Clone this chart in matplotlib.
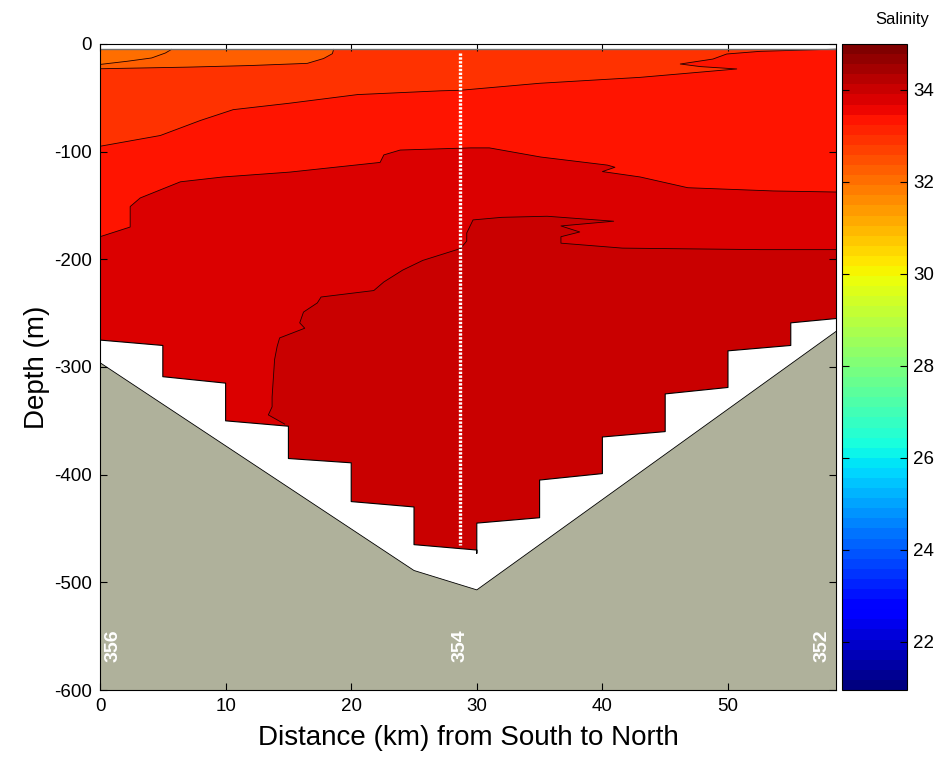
import matplotlib
matplotlib.use('Agg')
import matplotlib.pyplot as plt
from matplotlib import colors, cm
from matplotlib.patches import Polygon

plt.rcParams['font.family'] = ['Liberation Sans', 'DejaVu Sans']
plt.rcParams['axes.unicode_minus'] = False

# section limits
x_max = 58.6
z_top = -5          # shallowest sample depth
z_bot = -600

# salinity of each layer, shallow -> deep
layer_sal = [32.05, 32.3, 32.9, 33.35, 33.8, 34.1]

# contour boundaries between layers (distance km, depth m)
c1_x = [0, 2.2, 4.1, 5.2, 5.7]
c1_z = [-19, -16, -13, -8.4, -5]

c2_x = [0, 7, 12, 16.5, 17.8, 18.5, 18.6]
c2_z = [-23, -21.5, -20, -18, -13.5, -9, -5]

c3_x = [0, 4.8, 8, 10.6, 15.1, 20.5, 27.1, 28.7, 35, 43, 50.7, 47.8, 46.2, 48.8, 49.9, 52.6, 58.6]
c3_z = [-95, -85, -71, -61, -55, -47, -43.5, -43, -36.5, -31, -23.2, -21, -18.6, -14, -9.3, -6.8, -4.8]

c4_x = [0, 2.4, 2.4, 3.2, 6.4, 9.8, 15.1, 22.3, 22.6, 23.9, 29.5, 31, 35.1, 40.4, 41, 40, 43, 46.8, 53.6, 58.6]
c4_z = [-179, -170, -151, -143, -128, -123.5, -119, -110, -103, -98.5, -96.5, -96.5, -105, -112.5,
        -114.5, -118.5, -123.5, -133.5, -136.5, -137.5]

c5_x = [14.7, 13.4, 13.7, 13.7, 13.9, 14.1, 14.3, 16.3, 15.9, 16.2, 17.3, 17.6, 21.8, 22.6, 24.1,
        25.7, 28.7, 29.2, 29.2, 29.7, 32, 35.6, 40.9, 36.7, 38.2, 36.7, 36.7, 41.6, 52.6, 58.6]
c5_z = [-353, -344.5, -337, -328, -293, -281, -273, -264, -259, -249, -240.5, -235, -229, -221, -210,
        -201, -190, -183, -175.5, -163.4, -161, -160, -164.6, -169, -174.6, -179, -185, -189.6, -191, -191]

# deepest sample at each station (stair-step data bottom)
bot_x = [0, 5, 5, 10, 10, 15, 15, 20, 20, 25, 25, 30, 30, 30, 35, 35, 40, 40, 45, 45, 50, 50, 55, 55, 58.6]
bot_z = [-275, -280, -309, -315, -350, -355, -385, -389, -425, -430, -465, -470, -473, -445, -440,
         -405, -399, -365, -360, -325, -319, -285, -280, -259, -255]

# bathymetry
bathy_x = [0, 25, 30, 58.6]
bathy_z = [-296, -489, -507, -267]

# CTD cast and station labels
cast_x = 28.65
cast_z = [-8, -465]
stn_x = [1.0, 28.7, 57.5]
stn_lab = ['356', '354', '352']

fig = plt.figure(figsize=(9.41, 7.57), dpi=100)
ax = fig.add_axes([0.1063, 0.0885, 0.7821, 0.8534])
cax = fig.add_axes([0.8948, 0.0885, 0.0695, 0.8534])

cmap = matplotlib.colormaps['jet'].resampled(64)
norm = colors.Normalize(vmin=20.95, vmax=35.0)
sm = cm.ScalarMappable(norm=norm, cmap=cmap)
fills = sm.to_rgba(layer_sal)

# base layer over whole data area
ax.add_patch(Polygon([(0, z_top), (x_max, z_top), (x_max, z_bot), (0, z_bot)],
                     facecolor=fills[0], edgecolor='none'))

bounds = [(c1_x, c1_z), (c2_x, c2_z), (c3_x, c3_z), (c4_x, c4_z), (c5_x, c5_z)]
for i, (bx, bz) in enumerate(bounds):
    pts = list(zip(bx, bz)) + [(x_max, bz[-1]), (x_max, z_bot), (bx[0], z_bot)]
    ax.add_patch(Polygon(pts, facecolor=fills[i + 1], edgecolor='none'))
for bx, bz in bounds:
    ax.plot(bx, bz, color='#200000', lw=0.6)

# top edge of data
ax.plot([0, x_max], [z_top, z_top], color='0.45', lw=1)

# no data below deepest sample
ax.add_patch(Polygon(list(zip(bot_x, bot_z)) + [(x_max, z_bot), (0, z_bot)],
                     facecolor='white', edgecolor='none'))
ax.plot(bot_x, bot_z, color='k', lw=0.8)

# sea floor
ax.add_patch(Polygon(list(zip(bathy_x, bathy_z)) + [(x_max, z_bot), (0, z_bot)],
                     facecolor='#AFB19B', edgecolor='none'))
ax.plot(bathy_x, bathy_z, color='k', lw=0.6)

# cast position
ax.plot([cast_x, cast_x], cast_z, color='white', lw=2.4, ls=(0, (0.7, 0.45)))

for sx, sl in zip(stn_x, stn_lab):
    ax.text(sx, -574, sl, rotation=90, color='white', fontsize=14, fontweight='bold',
            ha='center', va='bottom')

ax.set_xlim(0, x_max)
ax.set_ylim(z_bot, 0)
ax.set_xticks(range(0, 60, 10))
ax.set_yticks(range(-600, 1, 100))
ax.tick_params(direction='in', top=True, right=True, length=5, labelsize=13.5, pad=6)
ax.set_xlabel('Distance (km) from South to North', fontsize=20, labelpad=7)
ax.set_ylabel('Depth (m)', fontsize=20, labelpad=3)

cb = fig.colorbar(sm, cax=cax, ticks=range(22, 35, 2))
cb.ax.tick_params(direction='in', left=True, right=True, length=5, labelsize=13.5, pad=4)
fig.text(0.9586, 0.974, 'Salinity', ha='center', va='center', fontsize=12)

fig.savefig('out.png', dpi=100)
